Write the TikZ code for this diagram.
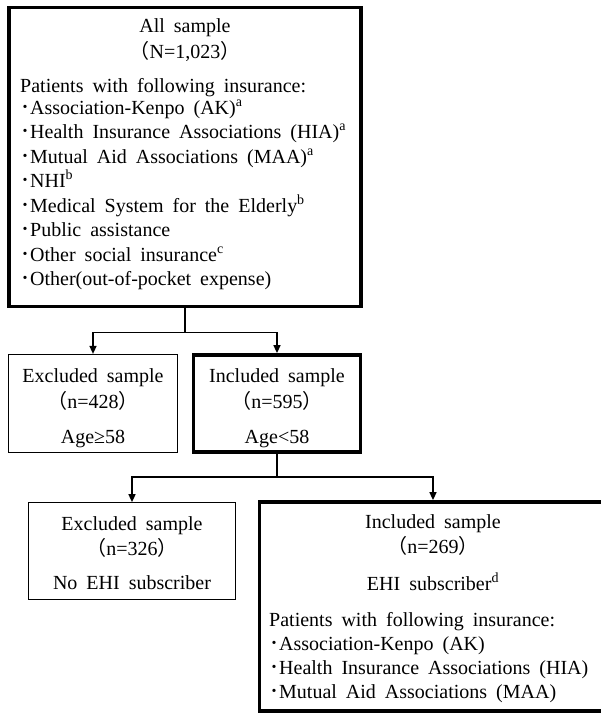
\documentclass[tikz,border=0pt]{standalone}
\usepackage{fontspec}
\setmainfont{Liberation Serif}[WordSpace=1.8]
\newfontfamily\jpfont{Noto Sans CJK JP}
\usetikzlibrary{arrows.meta}
\newcommand{\jlp}{{\jpfont （}}
\newcommand{\jrp}{{\jpfont ）}}
\newcommand{\jbul}{{\jpfont ･}}
\newcommand{\sps}[1]{\textsuperscript{#1}}
\begin{document}
\begin{tikzpicture}[x=1pt,y=-1pt,
  font=\fontsize{20}{24.5}\selectfont,
  thickbox/.style={draw, line width=3.8pt, inner sep=0pt, rectangle},
  thinbox/.style={draw, line width=1.2pt, inner sep=0pt, rectangle},
  conn/.style={line width=1.5pt},
  arr/.style={conn, -{Triangle[length=8pt,width=7pt]}},
  ctxt/.style={inner sep=0pt, anchor=base},
  ltxt/.style={inner sep=0pt, anchor=base west}]
\useasboundingbox (0,0) rectangle (601,713);
% boxes
\node[thickbox, minimum width=352pt, minimum height=299pt] (all) at (185,157) {};
\node[thinbox, minimum width=169pt, minimum height=98pt] (ex1) at (93,403.5) {};
\node[thickbox, minimum width=167pt, minimum height=97pt] (in1) at (277,403.5) {};
\node[thinbox, minimum width=207pt, minimum height=96.5pt] (ex2) at (132,551) {};
\begin{scope}
\clip (0,0) rectangle (601,713);
\node[thickbox, minimum width=380pt, minimum height=209pt] (in2) at (449.5,606.5) {};
\end{scope}
% connectors
\draw[conn] (all.south) -- ++(0,24) coordinate (j1);
\draw[arr] (j1) -| (ex1.north);
\draw[arr] (j1) -| (in1.north);
\draw[conn] (in1.south) -- ++(0,23) coordinate (j2);
\coordinate (r2) at (433,476);
\draw[arr] (j2) -| (ex2.north);
\draw[arr] (j2) -| (in2.north -| r2);
% top box text
\node[ctxt] (a1) at (185,32) {All sample};
\node[ctxt] (a2) at (185,58) {\jlp N=1,023\jrp};
\node[ltxt] (a3) at (20,92.5) {Patients with following insurance:};
\node[ltxt] (a4) at (20,114) {\jbul Association-Kenpo (AK)\sps{a}};
\node[ltxt] (a5) at (20,138.5) {\jbul Health Insurance Associations (HIA)\sps{a}};
\node[ltxt] (a6) at (20,163) {\jbul Mutual Aid Associations (MAA)\sps{a}};
\node[ltxt] (a7) at (20,187.5) {\jbul NHI\sps{b}};
\node[ltxt] (a8) at (20,212) {\jbul Medical System for the Elderly\sps{b}};
\node[ltxt] (a9) at (20,236.5) {\jbul Public assistance};
\node[ltxt] (a10) at (20,261) {\jbul Other social insurance\sps{c}};
\node[ltxt] (a11) at (20,285.5) {\jbul Other(out-of-pocket expense)};
% first level
\node[ctxt] (e1) at (93,382) {Excluded sample};
\node[ctxt] (e2) at (93,408) {\jlp n=428\jrp};
\node[ctxt] (e3) at (93,443) {Age≥58};
\node[ctxt] (i1) at (277,382) {Included sample};
\node[ctxt] (i2) at (277,408) {\jlp n=595\jrp};
\node[ctxt] (i3) at (277,443) {Age<58};
% second level
\node[ctxt] (f1) at (132,530) {Excluded sample};
\node[ctxt] (f2) at (132,555) {\jlp n=326\jrp};
\node[ctxt] (f3) at (132,589) {No EHI subscriber};
\node[ctxt] (g1) at (433,528) {Included sample};
\node[ctxt] (g2) at (433,553) {\jlp n=269\jrp};
\node[ctxt] (g3) at (433,590) {EHI subscriber\sps{d}};
\node[ltxt] (g4) at (269,626) {Patients with following insurance:};
\node[ltxt] (g5) at (269,650) {\jbul Association-Kenpo (AK)};
\node[ltxt] (g6) at (269,674) {\jbul Health Insurance Associations (HIA)};
\node[ltxt] (g7) at (269,698) {\jbul Mutual Aid Associations (MAA)};
\end{tikzpicture}
\end{document}
